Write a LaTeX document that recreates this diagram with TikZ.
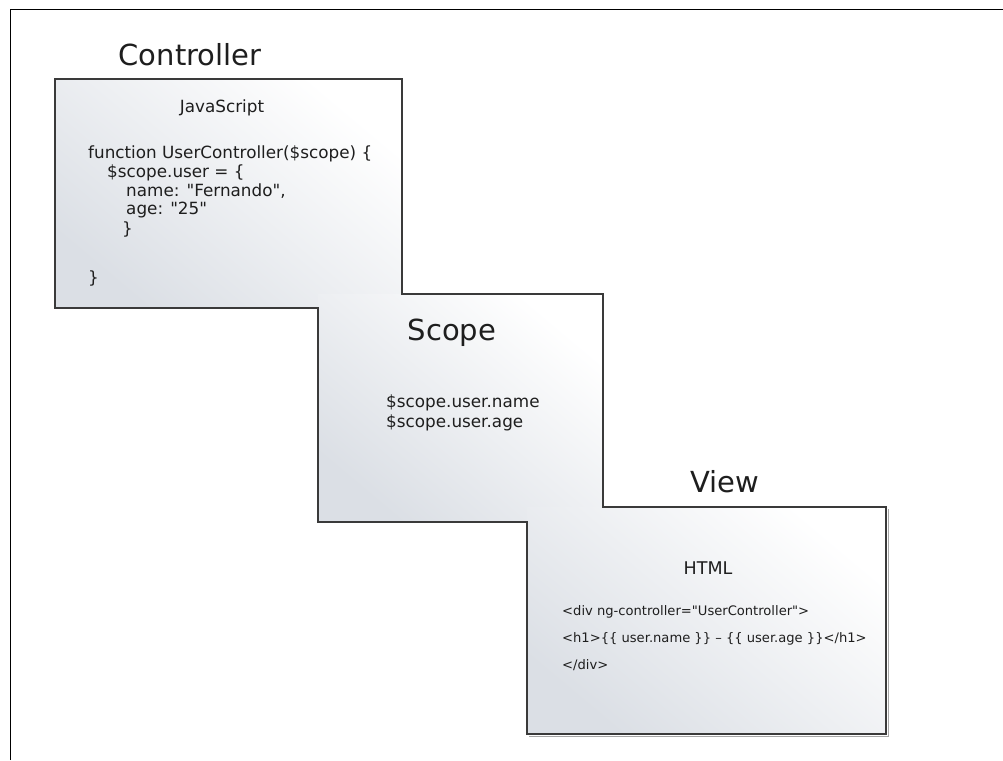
\documentclass[tikz,border=0pt]{standalone}
\usepackage{fontspec}
\setmainfont{DejaVu Sans}[Ligatures=TeXOff]
\definecolor{panelgrey}{HTML}{DBDFE5}
\definecolor{panelwhite}{HTML}{FFFFFF}
\definecolor{edge}{HTML}{3A3A3A}
\definecolor{ink}{HTML}{1E1E1E}
\begin{document}
\begin{tikzpicture}[x=1pt,y=-1pt,
  panel/.style={top color=panelwhite,bottom color=panelgrey,shading angle=-40},
  outline/.style={draw=edge,line width=1.4pt,line join=miter},
  shadowline/.style={draw=black!35,line width=1pt},
  title/.style={text=ink,font=\fontsize{29}{34}\selectfont,inner sep=0pt},
  code/.style={text=ink,font=\fontsize{16.8}{19}\selectfont,inner sep=0pt,anchor=base west},
  head/.style={text=ink,font=\fontsize{16.8}{19}\selectfont,inner sep=0pt},
  htmlhead/.style={text=ink,font=\fontsize{17.5}{20}\selectfont,inner sep=0pt},
  html/.style={text=ink,font=\fontsize{13.1}{17}\selectfont,inner sep=0pt,anchor=base west}]
\useasboundingbox (0,0) rectangle (1003,760);
\fill[white] (0,0) rectangle (1003,760);
\draw[black,line width=1pt] (10,760) -- (10,10) -- (1003,10);
% shaded panels (later panels lie on top)
\shade[panel] (55,79) rectangle (402,308);
\shade[panel] (318,294) rectangle (603,522);
\shade[panel] (527,507) rectangle (886,734);
% shadow and outline
\draw[shadowline] (888,509) -- (888,736) -- (529,736);
\draw[outline] (55,79) -- (402,79) -- (402,294) -- (603,294) -- (603,507) -- (886,507)
  -- (886,734) -- (527,734) -- (527,522) -- (318,522) -- (318,308) -- (55,308) -- cycle;
% Controller
\node[title] (ctitle) at (190,55) {Controller};
\node[head] (js) at (222,108) {JavaScript};
\node[code] (c1) at (88,158) {function UserController(\$scope) \{};
\node[code] (c2) at (107,177) {\$scope.user = \{};
\node[code] (c3) at (126,196) {name: "Fernando",};
\node[code] (c4) at (126,214) {age: "25"};
\node[code] (c5) at (122,234) {\}};
\node[code] (c6) at (88,283) {\}};
% Scope
\node[title] (stitle) at (452,333) {Scope};
\node[code] (s1) at (386,407) {\$scope.user.name};
\node[code] (s2) at (386,427) {\$scope.user.age};
% View
\node[title] (vtitle) at (725,482) {View};
\node[htmlhead] (ht) at (708,568) {HTML};
\node[html] (v1) at (562,615) {<div ng-controller="UserController">};
\node[html] (v2) at (562,642) {<h1>\{\{ user.name \}\} – \{\{ user.age \}\}</h1>};
\node[html] (v3) at (562,669) {</div>};
\end{tikzpicture}
\end{document}
